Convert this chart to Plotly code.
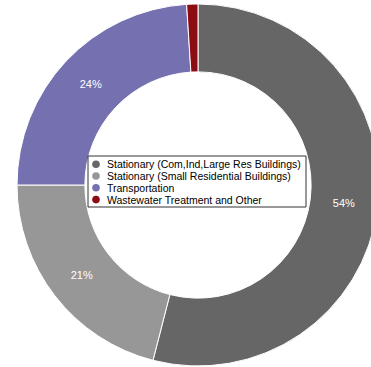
import plotly.graph_objects as go

labels = [
    "Stationary (Com,Ind,Large Res Buildings)",
    "Stationary (Small Residential Buildings)",
    "Transportation",
    "Wastewater Treatment and Other",
]
values = [54, 21, 24, 1]
colors = ["#666666", "#979797", "#7570b0", "#8b0c12"]
slice_text = ["54%", "21%", "24%", ""]

W, H = 380, 367
cx, cy, r = 198, 185, 181

def px(x):
    return x / W

def py(y):
    return 1 - y / H

fig = go.Figure(go.Pie(
    labels=labels,
    values=values,
    text=slice_text,
    textinfo="text",
    textposition="inside",
    insidetextorientation="horizontal",
    textfont=dict(family="Liberation Sans, Arial", size=11, color="white"),
    hole=0.625,
    sort=False,
    direction="clockwise",
    rotation=0,
    marker=dict(colors=colors, line=dict(color="white", width=1)),
    domain=dict(x=[px(cx - r), px(cx + r)], y=[py(cy + r), py(cy - r)]),
    showlegend=False,
    hoverinfo="label+percent",
))

shapes = [dict(type="rect", xref="paper", yref="paper",
               x0=px(88), x1=px(306), y0=py(207), y1=py(156),
               line=dict(color="#333333", width=1), fillcolor="white", layer="above")]
annotations = []
line_y = [164.2, 176.0, 187.8, 199.6]
for lab, col, ly in zip(labels, colors, line_y):
    d = 3.8
    shapes.append(dict(type="circle", xref="paper", yref="paper",
                       x0=px(96 - d), x1=px(96 + d), y0=py(ly + d), y1=py(ly - d),
                       line=dict(width=0), fillcolor=col, layer="above"))
    annotations.append(dict(text=lab, xref="paper", yref="paper", x=px(106), y=py(ly),
                            xanchor="left", yanchor="middle", showarrow=False,
                            borderpad=0,
                            font=dict(family="Liberation Sans, Arial", size=10.5, color="black")))

fig.update_layout(
    width=W, height=H,
    margin=dict(l=0, r=0, t=0, b=0),
    paper_bgcolor="white",
    plot_bgcolor="white",
    shapes=shapes,
    annotations=annotations,
)

fig.write_html("out.html",
               config={"displayModeBar": False},
               post_script="document.body.style.margin='0';document.body.style.overflow='hidden';")
